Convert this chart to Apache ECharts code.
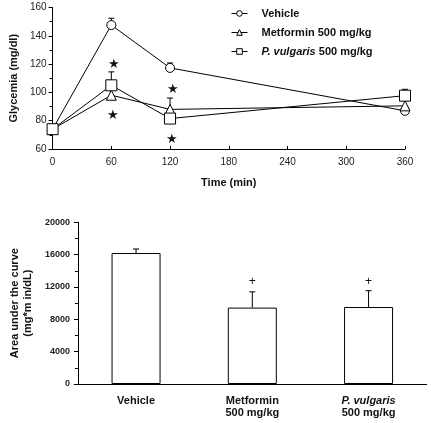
<!DOCTYPE html>
<html><head><meta charset="utf-8">
<script src="https://cdn.jsdelivr.net/npm/echarts@6/dist/echarts.min.js"></script>
<style>html,body{margin:0;padding:0;background:#fff}#c{width:431px;height:423px}</style>
</head><body><div id="c"></div>
<script>
// ---- Top panel data (Glycemia vs time) ----
var timePoints = [0, 60, 120, 360];
var vehicleMean = [74, 147.6, 117.3, 87];
var vehicleErr = [0, 4.8, 3.5, 0];
var metforminMean = [74, 98, 88, 90.5];
var metforminErr = [0, 0, 8, 0];
var vulgarisMean = [74, 105, 81.5, 97.7];
var vulgarisErr = [0, 9.5, 0, 4.5];
var starX = [62.5, 61.5, 122.5, 121.5];
var starY = [120, 83.5, 102.4, 67];
var timeTicks = [0, 60, 120, 180, 240, 300, 360];
var glyTicks = [60, 80, 100, 120, 140, 160];

// ---- Bottom panel data (AUC) ----
var groups = ['Vehicle', 'Metformin\n500 mg/kg', 'P. vulgaris\n500 mg/kg'];
var aucMean = [16200, 9450, 9520];
var aucErr = [500, 1950, 2020];
var plusMarks = [null, 12600, 12600];
var aucTicks = [0, 4000, 8000, 12000, 16000, 20000];

var FONT = '"Liberation Sans", Arial, sans-serif';
var chart = echarts.init(document.getElementById('c'));

function pairs(xs, ys) { return xs.map(function (x, i) { return [x, ys[i]]; }); }
function errTriples(xs, m, e) { return xs.map(function (x, i) { return [x, m[i], e[i]]; }); }

function errRender(params, api) {
  var err = api.value(2);
  if (!err) return null;
  var x = api.value(0), m = api.value(1);
  var p0 = api.coord([x, m]);
  var p1 = api.coord([x, m + err]);
  var st = { stroke: '#000', lineWidth: 1 };
  return { type: 'group', children: [
    { type: 'line', shape: { x1: p0[0], y1: p0[1], x2: p1[0], y2: p1[1] }, style: st },
    { type: 'line', shape: { x1: p1[0] - 3, y1: p1[1], x2: p1[0] + 3, y2: p1[1] }, style: st }
  ]};
}
function textRender(ch, size) {
  return function (params, api) {
    var v = api.value(1);
    if (v == null || isNaN(v)) return null;
    var p = api.coord([api.value(0), v]);
    return { type: 'text', style: { text: ch, x: p[0], y: p[1], textAlign: 'center', textVerticalAlign: 'middle', font: size + 'px ' + FONT, fill: '#111' } };
  };
}

var lineBase = {
  type: 'line', xAxisIndex: 0, yAxisIndex: 0, z: 3,
  lineStyle: { color: '#000', width: 1 },
  itemStyle: { color: '#fff', borderColor: '#000', borderWidth: 1 },
  emphasis: { disabled: true }, animation: false
};

var option = {
  animation: false,
  textStyle: { fontFamily: FONT },
  legend: {
    orient: 'vertical', left: 226, top: 3, itemGap: 8,
    itemWidth: 16, itemHeight: 7,
    lineStyle: { width: 1, color: '#000' },
    itemStyle: { borderWidth: 1, borderColor: '#000', color: '#fff' },
    data: ['Vehicle', 'Metformin 500 mg/kg', 'P. vulgaris 500 mg/kg'],
    formatter: function (n) {
      if (n.indexOf('P. vulgaris') === 0) return '{i|P. vulgaris}{b| 500 mg/kg}';
      return '{b|' + n + '}';
    },
    textStyle: {
      fontFamily: FONT, fontSize: 11, fontWeight: 'bold', color: '#111', padding: [0, 0, 0, 9],
      rich: {
        i: { fontFamily: FONT, fontSize: 11, fontWeight: 'bold', fontStyle: 'italic', color: '#111' },
        b: { fontFamily: FONT, fontSize: 11, fontWeight: 'bold', color: '#111' }
      }
    }
  },
  grid: [
    { left: 47.7, right: 26, top: 7.5, height: 141.5 },
    { left: 60.7, right: 4.3, top: 222.3, height: 161.7 }
  ],
  xAxis: [
    {
      gridIndex: 0, type: 'value', min: 0, max: 360, interval: 60,
      name: 'Time (min)', nameLocation: 'middle', nameGap: 28,
      nameTextStyle: { fontFamily: FONT, fontSize: 11, fontWeight: 'bold', color: '#111' },
      axisLine: { lineStyle: { color: '#000', width: 1 } },
      axisTick: { inside: true, length: 3, lineStyle: { color: '#000' } },
      axisLabel: { fontFamily: FONT, fontSize: 10, color: '#222', margin: 8 },
      splitLine: { show: false }
    },
    {
      gridIndex: 1, type: 'category', data: groups,
      axisLine: { lineStyle: { color: '#000', width: 1 } },
      axisTick: { alignWithLabel: false, length: 4, lineStyle: { color: '#000' } },
      axisLabel: {
        margin: 11, interval: 0,
        formatter: function (v) {
          var parts = v.split('\n');
          if (parts[0] === 'P. vulgaris') return '{i|P. vulgaris}\n{b|' + parts[1] + '}';
          return parts.map(function (p) { return '{b|' + p + '}'; }).join('\n');
        },
        rich: {
          i: { fontFamily: FONT, fontSize: 11, fontWeight: 'bold', fontStyle: 'italic', color: '#111', lineHeight: 12 },
          b: { fontFamily: FONT, fontSize: 11, fontWeight: 'bold', color: '#111', lineHeight: 12 }
        }
      },
      splitLine: { show: false }
    }
  ],
  yAxis: [
    {
      gridIndex: 0, type: 'value', min: 60, max: 160, interval: 20,
      name: 'Glycemia (mg/dl)', nameLocation: 'middle', nameGap: 26, nameRotate: 90,
      nameTextStyle: { fontFamily: FONT, fontSize: 11, fontWeight: 'bold', color: '#111' },
      axisLine: { show: true, lineStyle: { color: '#000', width: 1 } },
      axisTick: { show: true, length: 4, lineStyle: { color: '#000' } },
      minorTick: { show: true, splitNumber: 2, length: 3, lineStyle: { color: '#000' } },
      axisLabel: { fontFamily: FONT, fontSize: 10, color: '#222', margin: 6 },
      splitLine: { show: false }
    },
    {
      gridIndex: 1, type: 'value', min: 0, max: 20000, interval: 4000,
      name: 'Area under the curve\n(mg*m in/dL)', nameLocation: 'middle', nameGap: 34, nameRotate: 90,
      nameTextStyle: { fontFamily: FONT, fontSize: 11, fontWeight: 'bold', color: '#111', lineHeight: 13 },
      axisLine: { show: true, lineStyle: { color: '#000', width: 1 } },
      axisTick: { show: true, length: 4, lineStyle: { color: '#000' } },
      minorTick: { show: true, splitNumber: 2, length: 3, lineStyle: { color: '#000' } },
      axisLabel: { fontFamily: FONT, fontSize: 9, fontWeight: 'bold', color: '#222', margin: 8,
        formatter: function (v) { return String(v); } },
      splitLine: { show: false }
    }
  ],
  series: [
    { type: 'custom', xAxisIndex: 0, yAxisIndex: 0, z: 1, renderItem: errRender, data: errTriples(timePoints, vehicleMean, vehicleErr), silent: true },
    { type: 'custom', xAxisIndex: 0, yAxisIndex: 0, z: 1, renderItem: errRender, data: errTriples(timePoints, metforminMean, metforminErr), silent: true },
    { type: 'custom', xAxisIndex: 0, yAxisIndex: 0, z: 1, renderItem: errRender, data: errTriples(timePoints, vulgarisMean, vulgarisErr), silent: true },
    Object.assign({}, lineBase, { name: 'Vehicle', symbol: 'circle', symbolSize: 9, data: pairs(timePoints, vehicleMean) }),
    Object.assign({}, lineBase, { name: 'Metformin 500 mg/kg', symbol: 'triangle', symbolSize: 10, data: pairs(timePoints, metforminMean) }),
    Object.assign({}, lineBase, { name: 'P. vulgaris 500 mg/kg', symbol: 'rect', symbolSize: 11, data: pairs(timePoints, vulgarisMean) }),
    { type: 'custom', xAxisIndex: 0, yAxisIndex: 0, z: 4, renderItem: textRender('★', 13), data: pairs(starX, starY), silent: true },
    {
      type: 'bar', xAxisIndex: 1, yAxisIndex: 1, barWidth: 49, z: 2,
      itemStyle: { color: '#fff', borderColor: '#000', borderWidth: 1 },
      data: aucMean, emphasis: { disabled: true }
    },
    { type: 'custom', xAxisIndex: 1, yAxisIndex: 1, z: 1, renderItem: errRender, data: groups.map(function (g, i) { return [i, aucMean[i], aucErr[i]]; }), silent: true },
    { type: 'custom', xAxisIndex: 1, yAxisIndex: 1, z: 3, renderItem: textRender('+', 12), data: groups.map(function (g, i) { return [i, plusMarks[i] == null ? NaN : plusMarks[i]]; }), silent: true }
  ]
};
chart.setOption(option);
</script></body></html>
